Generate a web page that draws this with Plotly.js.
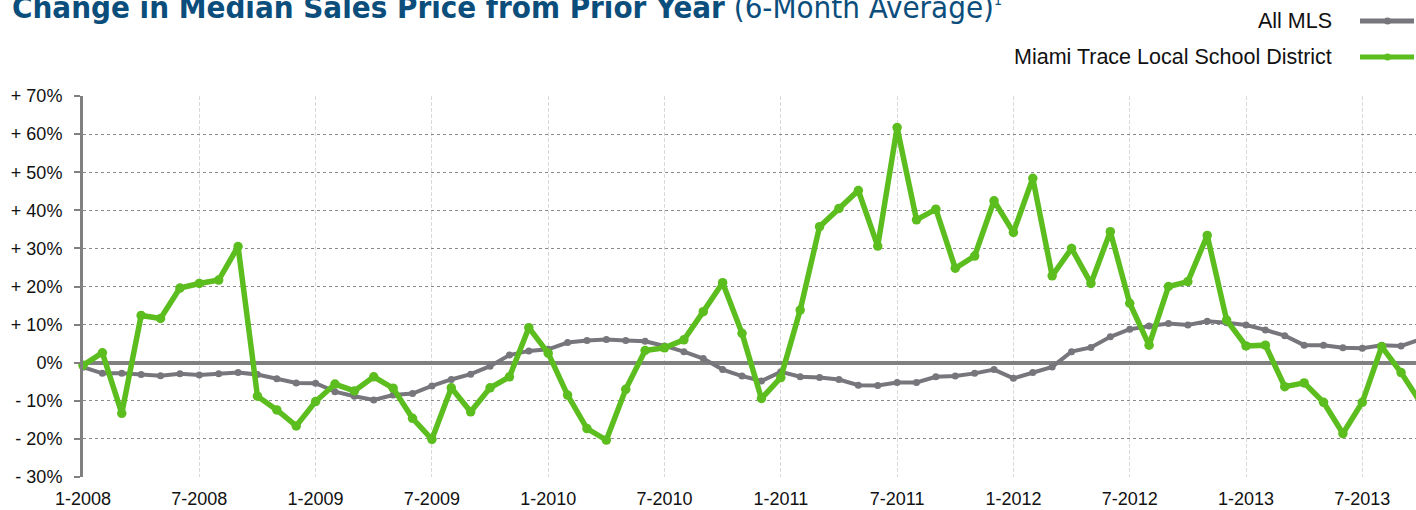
<!DOCTYPE html>
<html>
<head>
<meta charset="utf-8">
<script src="https://cdn.plot.ly/plotly-3.0.1.min.js"></script>
<style>
html,body{margin:0;padding:0;background:#fff;}
#chart{width:1416px;height:510px;}
</style>
</head>
<body>
<div id="chart"></div>
<script>
const months = [
 "1-2008","2-2008","3-2008","4-2008","5-2008","6-2008","7-2008","8-2008","9-2008","10-2008","11-2008","12-2008",
 "1-2009","2-2009","3-2009","4-2009","5-2009","6-2009","7-2009","8-2009","9-2009","10-2009","11-2009","12-2009",
 "1-2010","2-2010","3-2010","4-2010","5-2010","6-2010","7-2010","8-2010","9-2010","10-2010","11-2010","12-2010",
 "1-2011","2-2011","3-2011","4-2011","5-2011","6-2011","7-2011","8-2011","9-2011","10-2011","11-2011","12-2011",
 "1-2012","2-2012","3-2012","4-2012","5-2012","6-2012","7-2012","8-2012","9-2012","10-2012","11-2012","12-2012",
 "1-2013","2-2013","3-2013","4-2013","5-2013","6-2013","7-2013","8-2013","9-2013","10-2013"
];
const allMLS = [
 -1.2,-2.8,-2.8,-3.1,-3.4,-2.9,-3.2,-2.9,-2.6,-3.1,-4.2,-5.3,
 -5.4,-7.6,-8.8,-9.8,-8.5,-8.1,-6.1,-4.4,-3.0,-0.9,2.0,3.1,
 3.5,5.3,5.8,6.1,5.8,5.6,4.4,2.9,1.1,-1.8,-3.5,-4.8,
 -2.4,-3.7,-3.9,-4.4,-5.9,-6.0,-5.2,-5.2,-3.7,-3.5,-2.8,-1.8,
 -4.1,-2.6,-1.1,2.9,4.0,6.8,8.8,9.6,10.3,9.9,10.9,10.5,
 9.9,8.6,7.1,4.6,4.6,3.9,3.8,4.6,4.4,6.1
];
const miamiTrace = [
 -0.7,2.6,-13.3,12.4,11.6,19.6,20.8,21.7,30.5,-8.8,-12.4,-16.6,
 -10.2,-5.6,-7.4,-3.7,-6.7,-14.6,-20.1,-6.6,-12.9,-6.6,-3.7,9.2,
 2.5,-8.5,-17.3,-20.3,-7.0,3.2,3.9,6.0,13.4,21.0,7.7,-9.4,
 -3.9,13.8,35.7,40.5,45.2,30.6,61.7,37.5,40.3,24.8,28.0,42.5,
 34.2,48.4,22.8,30.0,20.8,34.4,15.6,4.6,20.0,21.3,33.4,11.2,
 4.4,4.6,-6.3,-5.3,-10.4,-18.6,-10.4,4.2,-2.6,-10.4
];
const xTickLabels = ["1-2008","7-2008","1-2009","7-2009","1-2010","7-2010","1-2011","7-2011","1-2012","7-2012","1-2013","7-2013"];
const yTickVals = [70,60,50,40,30,20,10,0,-10,-20,-30];
const yTickText = ["+ 70%","+ 60%","+ 50%","+ 40%","+ 30%","+ 20%","+ 10%","0%","- 10%","- 20%","- 30%"];
const seriesNames = ["All MLS","Miami Trace Local School District"];

const GRAY = "#77767c", GREEN = "#5cbd1f", BLUE = "#0b4e7c";
const FONT = "'Liberation Sans', Arial, Helvetica, sans-serif";

const traces = [
 {x: months, y: allMLS, name: seriesNames[0], type: "scatter", mode: "lines+markers",
  line: {color: GRAY, width: 4}, marker: {color: GRAY, size: 7}, cliponaxis: false},
 {x: months, y: miamiTrace, name: seriesNames[1], type: "scatter", mode: "lines+markers",
  line: {color: GREEN, width: 5.5}, marker: {color: GREEN, size: 9.5}, cliponaxis: false}
];

const plotW = 1416, plotH = 510;
const layout = {
 width: plotW, height: plotH,
 margin: {l: 83, r: 0, t: 96, b: 33, pad: 0},
 paper_bgcolor: "#fff", plot_bgcolor: "#fff",
 showlegend: false,
 font: {family: FONT, size: 18, color: "#111"},
 title: {
  text: "<b>Change in Median Sales Price from Prior Year</b> (6-Month Average)<sup><span style='font-size:14px'>1</span></sup>",
  font: {family: "'Liberation Sans Narrow', 'DejaVu Sans Condensed', 'Arial Narrow', sans-serif", size: 31, color: BLUE},
  x: 12/plotW, xanchor: "left", xref: "container",
  y: 1 - 7/plotH, yanchor: "middle", yref: "container"
 },
 xaxis: {
  type: "category", range: [0, 68.77],
  tickmode: "array", tickvals: xTickLabels, ticktext: xTickLabels,
  showgrid: true, gridcolor: "#d9d9d9", gridwidth: 1, griddash: "4px,2px",
  showline: false, zeroline: false, ticks: "",
  tickfont: {family: FONT, size: 18, color: "#111"},
  ticklabelstandoff: 9
 },
 yaxis: {
  range: [-30, 70], tickmode: "array", tickvals: yTickVals, ticktext: yTickText,
  showgrid: true, gridcolor: "#8a8a8a", gridwidth: 1, griddash: "dot",
  zeroline: true, zerolinecolor: "#808080", zerolinewidth: 4,
  showline: true, linecolor: "#808080", linewidth: 3,
  ticks: "outside", ticklen: 6, tickwidth: 2, tickcolor: "#808080",
  tickfont: {family: FONT, size: 18, color: "#111"},
  ticklabelstandoff: 8
 },
 annotations: [
  {text: seriesNames[0], xref: "paper", yref: "paper", x: (1334-83)/1333, xanchor: "right",
   y: (477-21)/381, yanchor: "middle", showarrow: false, font: {family: FONT, size: 21.5, color: "#111"}},
  {text: seriesNames[1], xref: "paper", yref: "paper", x: (1334-83)/1333, xanchor: "right",
   y: (477-57)/381, yanchor: "middle", showarrow: false, font: {family: FONT, size: 21.5, color: "#111"}}
 ],
 shapes: [
  {type: "line", xref: "paper", yref: "paper", x0: (1360-83)/1333, x1: (1414-83)/1333,
   y0: (477-21)/381, y1: (477-21)/381, line: {color: GRAY, width: 5}},
  {type: "circle", xref: "paper", yref: "paper", x0: (1384-83)/1333, x1: (1391-83)/1333,
   y0: (477-24.5)/381, y1: (477-17.5)/381, line: {width: 0}, fillcolor: GRAY},
  {type: "line", xref: "paper", yref: "paper", x0: (1360-83)/1333, x1: (1414-83)/1333,
   y0: (477-57)/381, y1: (477-57)/381, line: {color: GREEN, width: 5}},
  {type: "circle", xref: "paper", yref: "paper", x0: (1384-83)/1333, x1: (1391-83)/1333,
   y0: (477-60.5)/381, y1: (477-53.5)/381, line: {width: 0}, fillcolor: GREEN}
 ]
};

Plotly.newPlot("chart", traces, layout, {staticPlot: true, displayModeBar: false});
</script>
</body>
</html>
